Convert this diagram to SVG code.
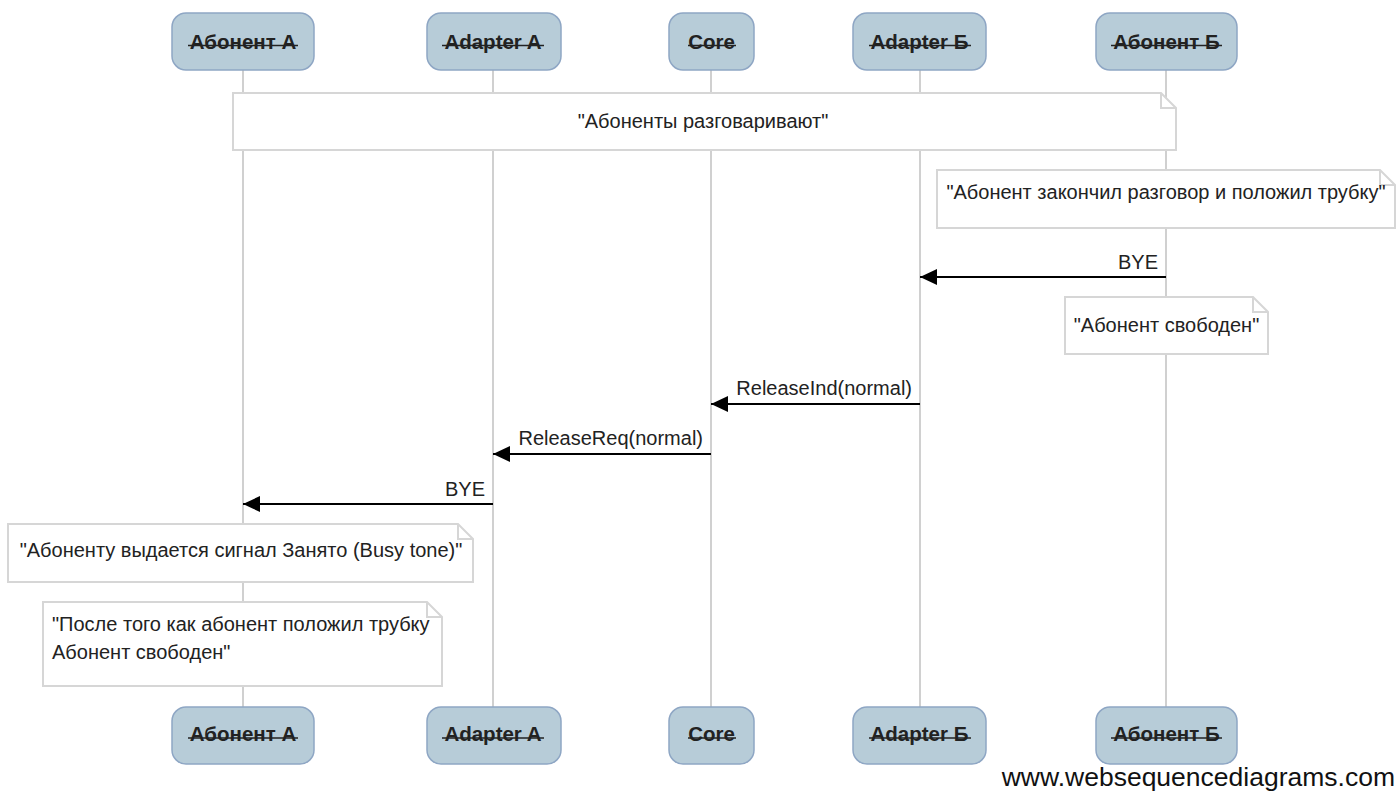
<svg xmlns="http://www.w3.org/2000/svg" width="1399" height="791" viewBox="0 0 1399 791">
<style>
  text { font-family: "Liberation Sans", Arial, sans-serif; fill: #222; }
  .lifeline { stroke: #d0d0d0; stroke-width: 2; fill: none; }
  .pbox { fill: #b7ccd8; stroke: #8ea6c4; stroke-width: 1.5; }
  .pname { font-size: 20.5px; font-weight: bold; text-anchor: middle; }
  .strike { stroke: #222; stroke-width: 1.5; }
  .note { fill: #fff; stroke: #d6d6d6; stroke-width: 2; }
  .fold { fill: none; stroke: #d6d6d6; stroke-width: 2; }
  .ntext { font-size: 20px; }
  .msg { stroke: #000; stroke-width: 2; fill: none; }
  .mlabel { font-size: 20px; text-anchor: end; }
</style>
<defs>
  <marker id="arrow" markerWidth="17" markerHeight="16" refX="17" refY="8" orient="auto" markerUnits="userSpaceOnUse">
    <path d="M0,0 L17,8 L0,16 Z" fill="#000"/>
  </marker>
</defs>
<rect width="1399" height="791" fill="#fff"/>

<g id="lifelines">
  <line class="lifeline" x1="243" y1="70" x2="243" y2="707"/>
  <line class="lifeline" x1="493" y1="70" x2="493" y2="707"/>
  <line class="lifeline" x1="711" y1="70" x2="711" y2="707"/>
  <line class="lifeline" x1="920" y1="70" x2="920" y2="707"/>
  <line class="lifeline" x1="1166" y1="70" x2="1166" y2="707"/>
</g>

<g id="participant-abonentA">
  <rect class="pbox" x="172" y="13" width="142" height="57" rx="14"/>
  <text class="pname" x="243" y="48.5">Абонент А</text>
  <line class="strike" x1="188" y1="45.5" x2="298" y2="45.5"/>
  <rect class="pbox" x="172" y="707" width="142" height="57" rx="14"/>
  <text class="pname" x="243" y="741">Абонент А</text>
  <line class="strike" x1="188" y1="738" x2="298" y2="738"/>
</g>
<g id="participant-adapterA">
  <rect class="pbox" x="427" y="13" width="134" height="57" rx="14"/>
  <text class="pname" x="493" y="48.5">Adapter A</text>
  <line class="strike" x1="442" y1="45.5" x2="544" y2="45.5"/>
  <rect class="pbox" x="427" y="707" width="134" height="57" rx="14"/>
  <text class="pname" x="493" y="741">Adapter A</text>
  <line class="strike" x1="442" y1="738" x2="544" y2="738"/>
</g>
<g id="participant-core">
  <rect class="pbox" x="669" y="13" width="85" height="57" rx="14"/>
  <text class="pname" x="711.5" y="48.5">Core</text>
  <line class="strike" x1="688" y1="45.5" x2="736" y2="45.5"/>
  <rect class="pbox" x="669" y="707" width="85" height="57" rx="14"/>
  <text class="pname" x="711.5" y="741">Core</text>
  <line class="strike" x1="688" y1="738" x2="736" y2="738"/>
</g>
<g id="participant-adapterB">
  <rect class="pbox" x="853" y="13" width="133" height="57" rx="14"/>
  <text class="pname" x="919.5" y="48.5">Adapter Б</text>
  <line class="strike" x1="869" y1="45.5" x2="971" y2="45.5"/>
  <rect class="pbox" x="853" y="707" width="133" height="57" rx="14"/>
  <text class="pname" x="919.5" y="741">Adapter Б</text>
  <line class="strike" x1="869" y1="738" x2="971" y2="738"/>
</g>
<g id="participant-abonentB">
  <rect class="pbox" x="1096" y="13" width="141" height="57" rx="14"/>
  <text class="pname" x="1166.5" y="48.5">Абонент Б</text>
  <line class="strike" x1="1111" y1="45.5" x2="1222" y2="45.5"/>
  <rect class="pbox" x="1096" y="707" width="141" height="57" rx="14"/>
  <text class="pname" x="1166.5" y="741">Абонент Б</text>
  <line class="strike" x1="1111" y1="738" x2="1222" y2="738"/>
</g>

<g id="note-talking">
  <path class="note" d="M233,93 H1161 L1176,108 V150 H233 Z"/>
  <path class="fold" d="M1161,93 V108 H1176"/>
  <text class="ntext" x="703" y="128" text-anchor="middle">"Абоненты разговаривают"</text>
</g>
<g id="note-hangup">
  <path class="note" d="M937,170 H1380 L1395,185 V228 H937 Z"/>
  <path class="fold" d="M1380,170 V185 H1395"/>
  <text class="ntext" x="1166" y="199" text-anchor="middle">"Абонент закончил разговор и положил трубку"</text>
</g>
<g id="note-free-b">
  <path class="note" d="M1065,297 H1253 L1268,312 V354 H1065 Z"/>
  <path class="fold" d="M1253,297 V312 H1268"/>
  <text class="ntext" x="1166.5" y="332" text-anchor="middle">"Абонент свободен"</text>
</g>
<g id="note-busy">
  <path class="note" d="M8,524 H458 L473,539 V582 H8 Z"/>
  <path class="fold" d="M458,524 V539 H473"/>
  <text class="ntext" x="241" y="557" text-anchor="middle">"Абоненту выдается сигнал Занято (Busy tone)"</text>
</g>
<g id="note-free-a">
  <path class="note" d="M43,602 H427 L442,617 V686 H43 Z"/>
  <path class="fold" d="M427,602 V617 H442"/>
  <text class="ntext" x="52" y="631">"После того как абонент положил трубку</text>
  <text class="ntext" x="52" y="659">Абонент свободен"</text>
</g>

<g id="connectors">
  <line class="msg" x1="1166" y1="277" x2="920" y2="277" marker-end="url(#arrow)"/>
  <text class="mlabel" x="1158" y="269">BYE</text>
  <line class="msg" x1="920" y1="404" x2="711" y2="404" marker-end="url(#arrow)"/>
  <text class="mlabel" x="912" y="395">ReleaseInd(normal)</text>
  <line class="msg" x1="711" y1="454" x2="493" y2="454" marker-end="url(#arrow)"/>
  <text class="mlabel" x="703" y="445">ReleaseReq(normal)</text>
  <line class="msg" x1="493" y1="504" x2="243" y2="504" marker-end="url(#arrow)"/>
  <text class="mlabel" x="485" y="496">BYE</text>
</g>

<text x="1395" y="786" font-size="26.5" text-anchor="end" style="fill:#111">www.websequencediagrams.com</text>
</svg>
